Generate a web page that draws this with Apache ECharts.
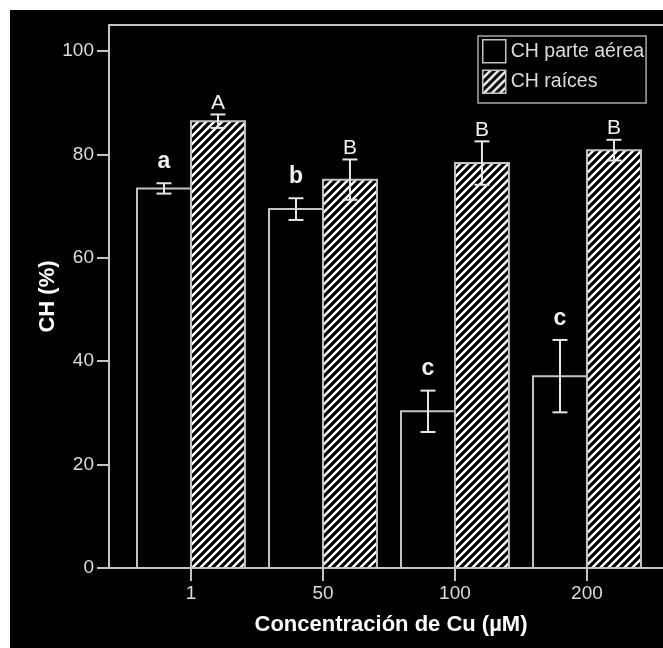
<!DOCTYPE html>
<html>
<head>
<meta charset="utf-8">
<script src="https://cdn.jsdelivr.net/npm/echarts@6/dist/echarts.min.js"></script>
<style>
html,body{margin:0;padding:0;background:#fff;}
#c{width:663px;height:648px;}
</style>
</head>
<body>
<div id="c"></div>
<script>
// ---- data ----
const categories = ['1', '50', '100', '200'];
const seriesNames = ['CH parte aérea', 'CH raíces'];
const aereaValues = [73.4, 69.4, 30.3, 37.1];
const aereaErrors = [1.0, 2.1, 4.0, 7.0];
const raicesValues = [86.4, 75.1, 78.3, 80.8];
const raicesErrors = [1.3, 3.9, 4.2, 2.0];
const aereaLetters = ['a', 'b', 'c', 'c'];
const raicesLetters = ['A', 'B', 'B', 'B'];
const yTicks = [0, 20, 40, 60, 80, 100];

// ---- styles ----
const FONT = 'Liberation Sans, Arial, sans-serif';
const AXIS = '#c4c4c4';
const TEXT = '#dcdcdc';
const BAR_W = 0.409; // in category units

function makeHatch() {
  const s = 8;
  const cv = document.createElement('canvas');
  cv.width = s; cv.height = s;
  const g = cv.getContext('2d');
  g.fillStyle = '#000';
  g.fillRect(0, 0, s, s);
  g.strokeStyle = '#ffffff';
  g.lineWidth = 2.4;
  g.lineCap = 'square';
  [[0, s, s, 0], [-s/2, s/2, s/2, -s/2], [s/2, s*1.5, s*1.5, s/2]].forEach(l => {
    g.beginPath(); g.moveTo(l[0], l[1]); g.lineTo(l[2], l[3]); g.stroke();
  });
  return cv;
}
const hatch = { image: makeHatch(), repeat: 'repeat' };

function buildData(vals, errs, letters) {
  return vals.map((v, i) => [i, v, errs[i], letters[i]]);
}

function renderItem(params, api) {
  const i = api.value(0), v = api.value(1), e = api.value(2);
  const letter = params.seriesIndex === 0 ? aereaLetters[params.dataIndex] : raicesLetters[params.dataIndex];
  const bw = api.size([BAR_W, 0])[0];
  const base = api.coord([i, 0]);
  const cx = base[0] + (params.seriesIndex === 0 ? -bw / 2 : bw / 2);
  const top = api.coord([i, v])[1];
  const eTop = api.coord([i, v + e])[1];
  const eBot = api.coord([i, v - e])[1];
  const cap = 7.5;
  const isLower = letter === letter.toLowerCase();
  const errStyle = { stroke: '#e6e6e6', lineWidth: 2 };
  return {
    type: 'group',
    children: [
      { type: 'rect', shape: { x: cx - bw / 2, y: top, width: bw, height: base[1] - top },
        style: { fill: params.seriesIndex === 0 ? '#000' : hatch, stroke: AXIS, lineWidth: 2 } },
      { type: 'line', shape: { x1: cx, y1: eTop, x2: cx, y2: eBot }, style: errStyle },
      { type: 'line', shape: { x1: cx - cap, y1: eTop, x2: cx + cap, y2: eTop }, style: errStyle },
      { type: 'line', shape: { x1: cx - cap, y1: eBot, x2: cx + cap, y2: eBot }, style: errStyle },
      { type: 'text', style: {
          text: letter, x: cx, y: eTop - (isLower ? 10 : 1),
          textAlign: 'center', textVerticalAlign: 'bottom',
          fill: '#f2f2f2',
          font: (isLower ? 'bold 23px ' : '21px ') + FONT
        } }
    ]
  };
}

const chart = echarts.init(document.getElementById('c'));
chart.setOption({
  backgroundColor: '#fff',
  animation: false,
  graphic: [{ type: 'rect', z: -100, silent: true,
    shape: { x: 10, y: 10, width: 653, height: 638 }, style: { fill: '#000' } }],
  grid: { left: 109, top: 25, bottom: 80, right: 0, show: false, containLabel: false },
  legend: {
    orient: 'vertical', left: 478, top: 36,
    itemWidth: 23, itemHeight: 23, itemGap: 6, itemTextGap: 5,
    padding: [3, 2, 9, 4],
    borderColor: '#a8a8a8', borderWidth: 1.5,
    textStyle: { color: TEXT, fontSize: 19.5, fontFamily: FONT },
    data: [
      { name: seriesNames[0], icon: 'rect', itemStyle: { color: '#000', borderColor: AXIS, borderWidth: 1.5 } },
      { name: seriesNames[1], icon: 'rect', itemStyle: { color: hatch, borderColor: AXIS, borderWidth: 1.5 } }
    ]
  },
  xAxis: [{
    type: 'value', min: -0.621, max: 3.576,
    name: 'Concentración de Cu (µM)', nameLocation: 'middle', nameGap: 46, nameMoveOverlap: false,
    nameTextStyle: { color: '#fff', fontSize: 22, fontWeight: 'bold', fontFamily: FONT, padding: [0, 0, 0, 10] },
    axisLine: { show: true, onZero: false, lineStyle: { color: AXIS, width: 2 } },
    axisTick: { show: true, customValues: [0, 1, 2, 3], length: 13, lineStyle: { color: AXIS, width: 2 } },
    axisLabel: { customValues: [0, 1, 2, 3], margin: 16, color: TEXT, fontSize: 19, fontFamily: FONT,
      formatter: v => categories[Math.round(v)] },
    splitLine: { show: false }
  }, {
    type: 'value', position: 'top', min: -0.621, max: 3.576,
    axisLine: { show: true, onZero: false, lineStyle: { color: AXIS, width: 2 } },
    axisTick: { show: false }, axisLabel: { show: false }, splitLine: { show: false }
  }],
  yAxis: {
    type: 'value', min: 0, max: 105,
    name: 'CH (%)', nameLocation: 'middle', nameGap: 50, nameRotate: 90, nameMoveOverlap: false,
    nameTextStyle: { color: '#fff', fontSize: 22, fontWeight: 'bold', fontFamily: FONT },
    axisLine: { show: true, onZero: false, lineStyle: { color: AXIS, width: 2 } },
    axisTick: { show: true, customValues: yTicks, length: 12, lineStyle: { color: AXIS, width: 2 } },
    axisLabel: { customValues: yTicks, margin: 15, color: TEXT, fontSize: 19, fontFamily: FONT },
    splitLine: { show: false }
  },
  series: [
    { name: seriesNames[0], type: 'custom', renderItem,
      itemStyle: { color: '#000', borderColor: AXIS, borderWidth: 1.5 },
      data: buildData(aereaValues, aereaErrors, aereaLetters) },
    { name: seriesNames[1], type: 'custom', renderItem,
      itemStyle: { color: hatch, borderColor: AXIS, borderWidth: 1.5 },
      data: buildData(raicesValues, raicesErrors, raicesLetters) }
  ]
});
</script>
</body>
</html>
